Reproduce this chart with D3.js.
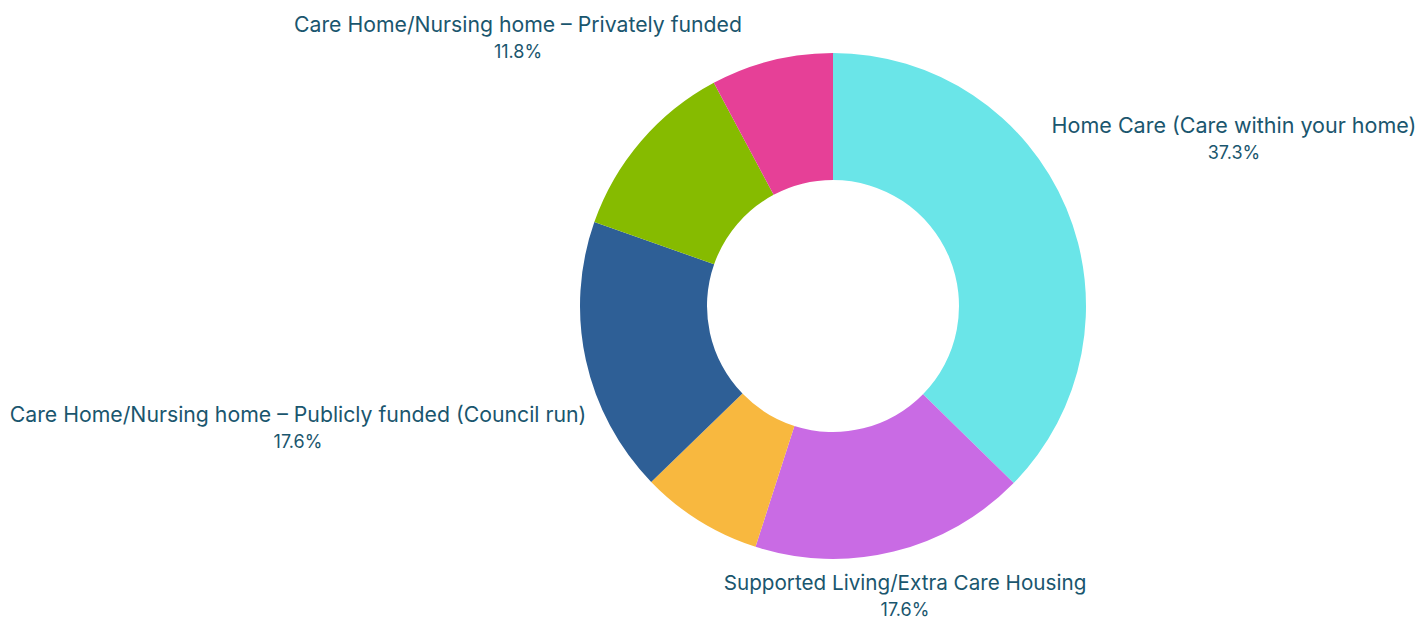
<!DOCTYPE html>
<html>
<head>
<meta charset="utf-8">
<script src="https://cdn.jsdelivr.net/npm/d3@7"></script>
<style>
  html, body { margin: 0; padding: 0; background: #ffffff; }
  svg { display: block; }
  text { font-family: Inter, "Open Sans", sans-serif; fill: #1a566e; }
</style>
</head>
<body>
<div id="chart"></div>
<script>
// Care setting shares (clockwise from 12 o'clock)
const categories = [
  "Home Care (Care within your home)",
  "Supported Living/Extra Care Housing",
  "Other (orange)",
  "Care Home/Nursing home \u2013 Publicly funded (Council run)",
  "Care Home/Nursing home \u2013 Privately funded",
  "Other (pink)"
];
const values = [37.3, 17.6, 7.8, 17.6, 11.8, 7.8];
const showLabel = [true, true, false, true, true, false];
const colors = ["#6ae5e8", "#c96be4", "#f8b83f", "#2e5f96", "#86bb00", "#e64097"];

// label anchors relative to the donut centre (text centred on x, first baseline on y)
const labelAnchors = [[401, -173], [72, 284], [0, 0], [-535, 116], [-315, -274], [0, 0]];
const labelWidths = [365, 363, 0, 577, 448, 0];

const W = 1418, H = 619;
const cx = 833, cy = 306;
const outerR = 253, innerR = 126;

const svg = d3.select("#chart").append("svg")
  .attr("width", W).attr("height", H);

const g = svg.append("g").attr("transform", `translate(${cx},${cy})`);

const pie = d3.pie().value(d => d).sort(null);
const arc = d3.arc().innerRadius(innerR).outerRadius(outerR);
const arcs = pie(values);

g.selectAll("path.slice")
  .data(arcs)
  .join("path")
  .attr("class", "slice")
  .attr("d", arc)
  .attr("fill", (d, i) => colors[i]);

const labels = g.selectAll("g.label")
  .data(arcs.filter((d, i) => showLabel[i]))
  .join("g")
  .attr("class", "label")
  .attr("transform", d => `translate(${labelAnchors[d.index][0]},${labelAnchors[d.index][1]})`);

labels.append("text")
  .attr("text-anchor", "middle")
  .attr("font-size", 19)
  .text(d => categories[d.index])
  .each(function(d) {
    const w = this.getComputedTextLength();
    const target = labelWidths[d.index];
    if (target) d3.select(this).attr("font-size", 19 * target / w);
  });

labels.append("text")
  .attr("text-anchor", "middle")
  .attr("y", 26)
  .attr("font-size", 18)
  .text(d => d3.format(".1f")(d.data) + "%");
</script>
</body>
</html>
